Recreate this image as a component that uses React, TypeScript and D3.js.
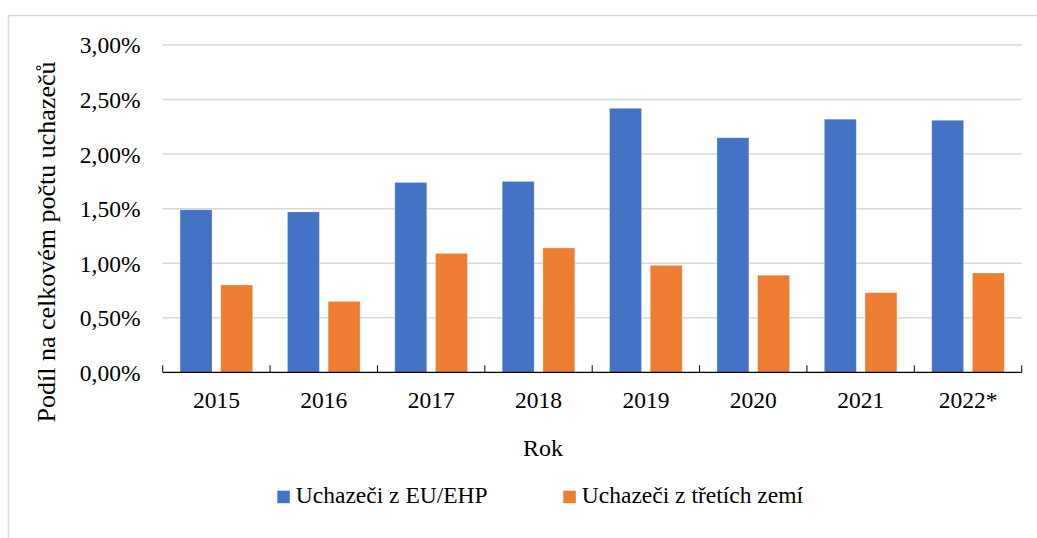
import { useEffect, useRef } from 'react'
import * as d3 from 'd3'

const years = ['2015', '2016', '2017', '2018', '2019', '2020', '2021', '2022*']
const euShare = [1.49, 1.47, 1.74, 1.75, 2.42, 2.15, 2.32, 2.31]
const thirdShare = [0.8, 0.65, 1.09, 1.14, 0.98, 0.89, 0.73, 0.91]
const seriesNames = ['Uchazeči z EU/EHP', 'Uchazeči z třetích zemí']
const seriesColors = ['#4472C4', '#ED7D31']
const yTicks = [0, 0.5, 1, 1.5, 2, 2.5, 3]

const FONT = 'Liberation Serif, serif'

export default function App() {
  const ref = useRef<SVGSVGElement>(null)

  useEffect(() => {
    if (!ref.current) return
    const width = 1037
    const height = 538
    const plot = { left: 162.7, right: 1021.7, top: 45, bottom: 372.3 }

    const svg = d3.select(ref.current)
    svg.selectAll('*').remove()
    svg.attr('width', width).attr('height', height).style('font-family', FONT)

    svg.append('rect')
      .attr('x', 8.5).attr('y', 15.5)
      .attr('width', 1040).attr('height', 540)
      .attr('fill', '#fff').attr('stroke', '#d9d9d9').attr('stroke-width', 1.5)

    const x0 = d3.scaleBand().domain(years).range([plot.left, plot.right]).padding(0)
    const x1 = d3.scaleBand().domain(['eu', 'third']).range([0, x0.bandwidth()])
      .paddingInner(0.214).paddingOuter(0.427)
    const y = d3.scaleLinear().domain([0, 3]).range([plot.bottom, plot.top])

    // gridlines
    svg.append('g')
      .selectAll('line')
      .data(yTicks.filter((d) => d > 0))
      .join('line')
      .attr('x1', plot.left).attr('x2', plot.right)
      .attr('y1', (d) => y(d)).attr('y2', (d) => y(d))
      .attr('stroke', '#d9d9d9').attr('stroke-width', 1.5)

    // y tick labels
    svg.append('g')
      .selectAll('text')
      .data(yTicks)
      .join('text')
      .attr('x', 140.5)
      .attr('y', (d) => y(d))
      .attr('dy', '0.36em')
      .attr('text-anchor', 'end')
      .style('font-family', FONT).attr('font-size', 23.5).attr('fill', '#000')
      .text((d) => d.toFixed(2).replace('.', ',') + '%')

    // bars
    const rows = years.map((yr, i) => ({ yr, eu: euShare[i], third: thirdShare[i] }))
    const groups = svg.append('g')
      .selectAll('g')
      .data(rows)
      .join('g')
      .attr('transform', (d) => `translate(${x0(d.yr)},0)`)
    ;(['eu', 'third'] as const).forEach((key, k) => {
      groups.append('rect')
        .attr('x', x1(key)!)
        .attr('width', x1.bandwidth())
        .attr('y', (d) => y(d[key]))
        .attr('height', (d) => plot.bottom - y(d[key]))
        .attr('fill', seriesColors[k])
        .attr('stroke', '#fff').attr('stroke-opacity', 0.4).attr('stroke-width', 0.75)
    })

    // x axis
    const axis = svg.append('g')
    axis.append('line')
      .attr('x1', plot.left).attr('x2', plot.right)
      .attr('y1', plot.bottom).attr('y2', plot.bottom)
      .attr('stroke', '#000').attr('stroke-width', 1.2)
    const boundaries = years.map((yr) => x0(yr)!).concat([plot.right])
    axis.selectAll('line.tick')
      .data(boundaries)
      .join('line')
      .attr('class', 'tick')
      .attr('x1', (d) => d).attr('x2', (d) => d)
      .attr('y1', plot.bottom - 7).attr('y2', plot.bottom)
      .attr('stroke', '#000').attr('stroke-width', 1)
    axis.selectAll('text')
      .data(years)
      .join('text')
      .attr('x', (d) => x0(d)! + x0.bandwidth() / 2)
      .attr('y', 408)
      .attr('text-anchor', 'middle')
      .style('font-family', FONT).attr('font-size', 23.5).attr('fill', '#000')
      .text((d) => d)

    // axis titles
    svg.append('text')
      .attr('x', 543).attr('y', 456)
      .attr('text-anchor', 'middle')
      .style('font-family', FONT).attr('font-size', 24).attr('fill', '#000')
      .text('Rok')
    svg.append('text')
      .attr('transform', 'translate(55,242) rotate(-90)')
      .attr('text-anchor', 'middle')
      .style('font-family', FONT).attr('font-size', 26).attr('fill', '#000')
      .text('Podíl na celkovém počtu uchazečů')

    // legend
    const legendX = [277.3, 563.3]
    const legend = svg.append('g')
      .selectAll('g')
      .data(seriesNames)
      .join('g')
      .attr('transform', (_, i) => `translate(${legendX[i]},490.7)`)
    legend.append('rect')
      .attr('width', 12.5).attr('height', 12.5)
      .attr('fill', (_, i) => seriesColors[i])
    legend.append('text')
      .attr('x', 18.5).attr('y', 12.5)
      .style('font-family', FONT).attr('font-size', 23.5).attr('fill', '#000')
      .text((d) => d)
  }, [])

  return (
    <svg ref={ref} style={{ position: 'absolute', left: 0, top: 0, display: 'block' }} />
  )
}
